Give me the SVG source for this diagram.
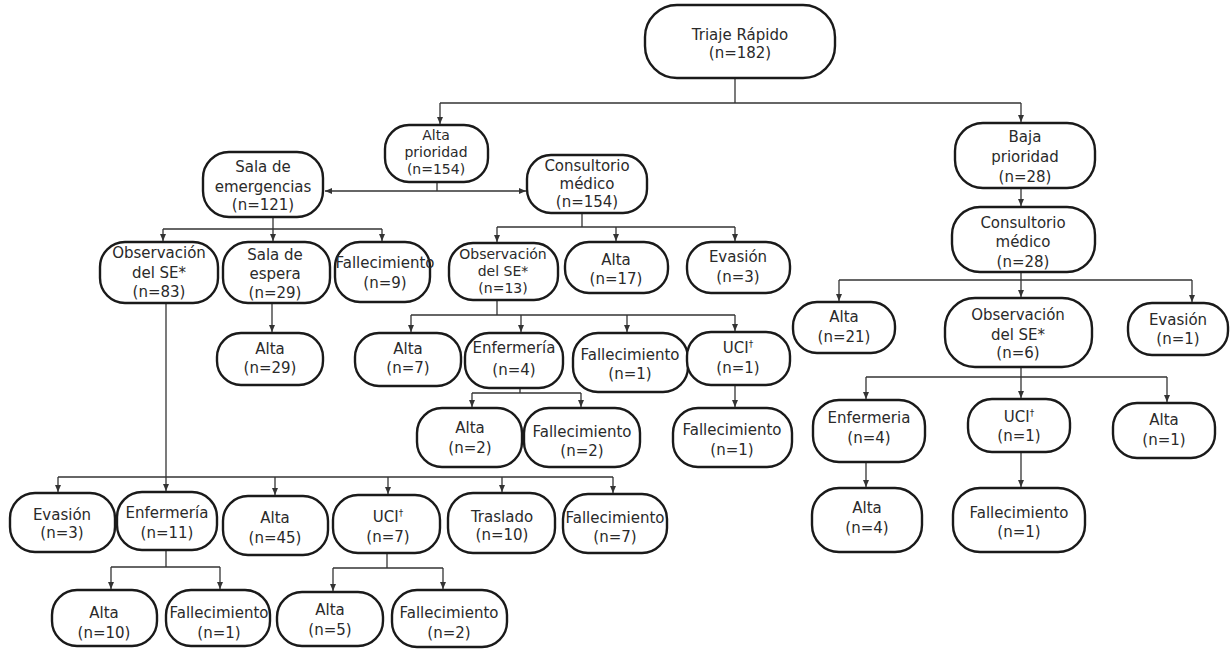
<svg xmlns="http://www.w3.org/2000/svg" width="1232" height="649" viewBox="0 0 1232 649">
<style>
.n rect{fill:#fff;stroke:#1a1a1a;stroke-width:2.4}
.n text{font-family:"DejaVu Sans",Verdana,sans-serif;font-size:15px;fill:#2a2a2a;text-anchor:middle}
.n text.t{font-size:14px}
.c path{fill:none;stroke:#333;stroke-width:1.3}
.sup{font-size:9px}
</style>
<defs>
<marker id="ar" markerWidth="8" markerHeight="8" refX="7" refY="4" orient="auto" markerUnits="userSpaceOnUse">
<path d="M0,1 L7,4 L0,7 Z" fill="#333"/>
</marker>
</defs>
<g class="c">
<path d="M735,78 V103"/>
<path d="M440,103 H1021"/>
<path d="M440,103 V124" marker-end="url(#ar)"/>
<path d="M1021,103 V122" marker-end="url(#ar)"/>
<path d="M437,182 V191"/>
<path d="M437,191 H325" marker-end="url(#ar)"/>
<path d="M437,191 H526" marker-end="url(#ar)"/>
<path d="M273,217 V229"/>
<path d="M163,229 H382"/>
<path d="M163,229 V241" marker-end="url(#ar)"/>
<path d="M273,229 V241" marker-end="url(#ar)"/>
<path d="M382,229 V241" marker-end="url(#ar)"/>
<path d="M582,213 V227"/>
<path d="M497,227 H735"/>
<path d="M497,227 V242" marker-end="url(#ar)"/>
<path d="M616,227 V241" marker-end="url(#ar)"/>
<path d="M735,227 V241" marker-end="url(#ar)"/>
<path d="M497,300 V315"/>
<path d="M411,315 H735"/>
<path d="M411,315 V332" marker-end="url(#ar)"/>
<path d="M521,315 V332" marker-end="url(#ar)"/>
<path d="M627,315 V332" marker-end="url(#ar)"/>
<path d="M735,315 V331" marker-end="url(#ar)"/>
<path d="M272,303 V332" marker-end="url(#ar)"/>
<path d="M520,388 V393"/>
<path d="M472,393 H581"/>
<path d="M472,393 V407" marker-end="url(#ar)"/>
<path d="M581,393 V407" marker-end="url(#ar)"/>
<path d="M735,385 V407" marker-end="url(#ar)"/>
<path d="M166,303 V477"/>
<path d="M58,477 H613"/>
<path d="M58,477 V492" marker-end="url(#ar)"/>
<path d="M166,477 V491" marker-end="url(#ar)"/>
<path d="M275,477 V495" marker-end="url(#ar)"/>
<path d="M388,477 V494" marker-end="url(#ar)"/>
<path d="M502,477 V492" marker-end="url(#ar)"/>
<path d="M613,477 V493" marker-end="url(#ar)"/>
<path d="M166,550 V567"/>
<path d="M111,567 H220"/>
<path d="M111,567 V589" marker-end="url(#ar)"/>
<path d="M220,567 V589" marker-end="url(#ar)"/>
<path d="M387,553 V568"/>
<path d="M333,568 H443"/>
<path d="M333,568 V591" marker-end="url(#ar)"/>
<path d="M443,568 V589" marker-end="url(#ar)"/>
<path d="M1021,188 V206" marker-end="url(#ar)"/>
<path d="M1021,272 V280"/>
<path d="M839,280 H1192"/>
<path d="M839,280 V301" marker-end="url(#ar)"/>
<path d="M1021,280 V297" marker-end="url(#ar)"/>
<path d="M1192,280 V302" marker-end="url(#ar)"/>
<path d="M1021,367 V377"/>
<path d="M866,377 H1167"/>
<path d="M866,377 V399" marker-end="url(#ar)"/>
<path d="M1021,377 V398" marker-end="url(#ar)"/>
<path d="M1167,377 V402" marker-end="url(#ar)"/>
<path d="M866,462 V487" marker-end="url(#ar)"/>
<path d="M1021,452 V487" marker-end="url(#ar)"/>
</g>

<g id="triaje" class="n"><rect x="645" y="5" width="190" height="73" rx="32"/><text><tspan x="740" y="40">Triaje Rápido</tspan><tspan x="740" y="58">(n=182)</tspan></text></g>
<g id="alta-prioridad" class="n"><rect x="385" y="125" width="103" height="57" rx="24"/><text class="t"><tspan x="436" y="140">Alta</tspan><tspan x="436" y="157">prioridad</tspan><tspan x="436" y="174">(n=154)</tspan></text></g>
<g id="consultorio-alta" class="n"><rect x="527" y="155" width="120" height="58" rx="24"/><text><tspan x="587" y="171">Consultorio</tspan><tspan x="587" y="189">médico</tspan><tspan x="587" y="207">(n=154)</tspan></text></g>
<g id="sala-emergencias" class="n"><rect x="203" y="152" width="120" height="65" rx="26"/><text><tspan x="263" y="172">Sala de</tspan><tspan x="263" y="192">emergencias</tspan><tspan x="263" y="210">(n=121)</tspan></text></g>
<g id="obs-83" class="n"><rect x="100" y="242" width="118" height="61" rx="25"/><text><tspan x="159" y="258">Observación</tspan><tspan x="159" y="278">del SE*</tspan><tspan x="159" y="297">(n=83)</tspan></text></g>
<g id="sala-espera" class="n"><rect x="223" y="242" width="107" height="61" rx="25"/><text><tspan x="275" y="260">Sala de</tspan><tspan x="275" y="279">espera</tspan><tspan x="275" y="298">(n=29)</tspan></text></g>
<g id="fallec-9" class="n"><rect x="335" y="242" width="95" height="60" rx="25"/><text><tspan x="385" y="268">Fallecimiento</tspan><tspan x="385" y="288">(n=9)</tspan></text></g>
<g id="obs-13" class="n"><rect x="449" y="243" width="109" height="57" rx="24"/><text class="t"><tspan x="503" y="259">Observación</tspan><tspan x="503" y="276">del SE*</tspan><tspan x="503" y="293">(n=13)</tspan></text></g>
<g id="alta-17" class="n"><rect x="565" y="242" width="103" height="51" rx="24"/><text><tspan x="616" y="265">Alta</tspan><tspan x="616" y="284">(n=17)</tspan></text></g>
<g id="evasion-3" class="n"><rect x="687" y="242" width="103" height="51" rx="24"/><text><tspan x="738" y="262">Evasión</tspan><tspan x="738" y="282">(n=3)</tspan></text></g>
<g id="alta-29" class="n"><rect x="217" y="333" width="106" height="52" rx="24"/><text><tspan x="270" y="354">Alta</tspan><tspan x="270" y="373">(n=29)</tspan></text></g>
<g id="alta-7" class="n"><rect x="355" y="333" width="106" height="53" rx="24"/><text><tspan x="408" y="354">Alta</tspan><tspan x="408" y="373">(n=7)</tspan></text></g>
<g id="enf-4" class="n"><rect x="465" y="333" width="98" height="55" rx="24"/><text><tspan x="514" y="353">Enfermería</tspan><tspan x="514" y="375">(n=4)</tspan></text></g>
<g id="fallec-1a" class="n"><rect x="573" y="333" width="115" height="59" rx="25"/><text><tspan x="630" y="360">Fallecimiento</tspan><tspan x="630" y="379">(n=1)</tspan></text></g>
<g id="uci-1a" class="n"><rect x="687" y="332" width="103" height="53" rx="24"/><text><tspan x="738" y="353">UCI<tspan class="sup" dy="-6">†</tspan></tspan><tspan x="738" y="373">(n=1)</tspan></text></g>
<g id="alta-2" class="n"><rect x="417" y="408" width="105" height="59" rx="25"/><text><tspan x="470" y="433">Alta</tspan><tspan x="470" y="453">(n=2)</tspan></text></g>
<g id="fallec-2a" class="n"><rect x="524" y="408" width="116" height="59" rx="25"/><text><tspan x="582" y="437">Fallecimiento</tspan><tspan x="582" y="456">(n=2)</tspan></text></g>
<g id="fallec-1b" class="n"><rect x="673" y="408" width="119" height="59" rx="25"/><text><tspan x="732" y="435">Fallecimiento</tspan><tspan x="732" y="455">(n=1)</tspan></text></g>

<g id="baja-prioridad" class="n"><rect x="955" y="123" width="140" height="65" rx="28"/><text><tspan x="1025" y="142">Baja</tspan><tspan x="1025" y="162">prioridad</tspan><tspan x="1025" y="182">(n=28)</tspan></text></g>
<g id="consultorio-baja" class="n"><rect x="952" y="207" width="143" height="65" rx="28"/><text><tspan x="1023" y="228">Consultorio</tspan><tspan x="1023" y="247">médico</tspan><tspan x="1023" y="267">(n=28)</tspan></text></g>
<g id="alta-21" class="n"><rect x="793" y="302" width="102" height="51" rx="24"/><text><tspan x="844" y="322">Alta</tspan><tspan x="844" y="342">(n=21)</tspan></text></g>
<g id="obs-6" class="n"><rect x="945" y="298" width="147" height="69" rx="30"/><text><tspan x="1018" y="320">Observación</tspan><tspan x="1018" y="340">del SE*</tspan><tspan x="1018" y="358">(n=6)</tspan></text></g>
<g id="evasion-1" class="n"><rect x="1128" y="303" width="100" height="52" rx="24"/><text><tspan x="1178" y="325">Evasión</tspan><tspan x="1178" y="344">(n=1)</tspan></text></g>
<g id="enf-4r" class="n"><rect x="813" y="400" width="112" height="62" rx="26"/><text><tspan x="869" y="423">Enfermeria</tspan><tspan x="869" y="443">(n=4)</tspan></text></g>
<g id="uci-1b" class="n"><rect x="968" y="399" width="102" height="53" rx="24"/><text><tspan x="1019" y="422">UCI<tspan class="sup" dy="-6">†</tspan></tspan><tspan x="1019" y="441">(n=1)</tspan></text></g>
<g id="alta-1" class="n"><rect x="1113" y="403" width="102" height="55" rx="24"/><text><tspan x="1164" y="425">Alta</tspan><tspan x="1164" y="445">(n=1)</tspan></text></g>
<g id="alta-4" class="n"><rect x="812" y="488" width="110" height="64" rx="27"/><text><tspan x="867" y="513">Alta</tspan><tspan x="867" y="533">(n=4)</tspan></text></g>
<g id="fallec-1c" class="n"><rect x="953" y="488" width="132" height="64" rx="27"/><text><tspan x="1019" y="518">Fallecimiento</tspan><tspan x="1019" y="537">(n=1)</tspan></text></g>

<g id="evasion-3b" class="n"><rect x="10" y="493" width="105" height="59" rx="25"/><text><tspan x="62" y="520">Evasión</tspan><tspan x="62" y="538">(n=3)</tspan></text></g>
<g id="enf-11" class="n"><rect x="117" y="492" width="100" height="58" rx="25"/><text><tspan x="167" y="518">Enfermería</tspan><tspan x="167" y="538">(n=11)</tspan></text></g>
<g id="alta-45" class="n"><rect x="223" y="496" width="105" height="59" rx="25"/><text><tspan x="275" y="523">Alta</tspan><tspan x="275" y="543">(n=45)</tspan></text></g>
<g id="uci-7" class="n"><rect x="333" y="495" width="107" height="58" rx="25"/><text><tspan x="388" y="522">UCI<tspan class="sup" dy="-6">†</tspan></tspan><tspan x="388" y="542">(n=7)</tspan></text></g>
<g id="traslado-10" class="n"><rect x="448" y="493" width="107" height="60" rx="25"/><text><tspan x="502" y="522">Traslado</tspan><tspan x="502" y="540">(n=10)</tspan></text></g>
<g id="fallec-7" class="n"><rect x="563" y="494" width="104" height="59" rx="25"/><text><tspan x="615" y="523">Fallecimiento</tspan><tspan x="615" y="542">(n=7)</tspan></text></g>
<g id="alta-10" class="n"><rect x="52" y="590" width="105" height="56" rx="25"/><text><tspan x="104" y="618">Alta</tspan><tspan x="104" y="638">(n=10)</tspan></text></g>
<g id="fallec-1d" class="n"><rect x="166" y="590" width="104" height="56" rx="25"/><text><tspan x="219" y="618">Fallecimiento</tspan><tspan x="219" y="638">(n=1)</tspan></text></g>
<g id="alta-5" class="n"><rect x="277" y="592" width="106" height="54" rx="25"/><text><tspan x="330" y="615">Alta</tspan><tspan x="330" y="635">(n=5)</tspan></text></g>
<g id="fallec-2b" class="n"><rect x="392" y="590" width="115" height="57" rx="25"/><text><tspan x="449" y="618">Fallecimiento</tspan><tspan x="449" y="638">(n=2)</tspan></text></g>
</svg>
